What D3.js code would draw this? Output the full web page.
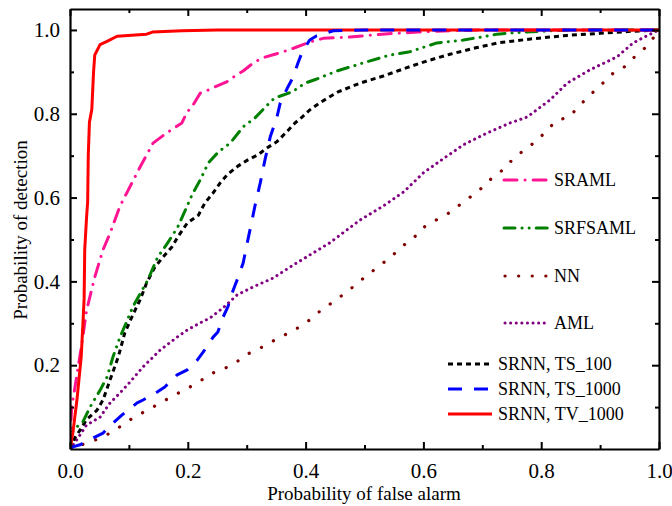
<!DOCTYPE html>
<html>
<head>
<meta charset="utf-8">
<script src="https://cdn.jsdelivr.net/npm/d3@7"></script>
<style>
  body { margin: 0; background: #fff; }
</style>
</head>
<body>
<svg id="chart" width="672" height="506" font-family="Liberation Serif"></svg>
<script>
// ROC curves, [false alarm, detection]
var nn = [[0,0],[0.048,0.024],[0.071,0.04],[0.11,0.077],[0.132,0.093],[0.156,0.112],[0.175,0.127],[0.197,0.143],[0.217,0.158],[0.238,0.179],[0.261,0.191],[0.283,0.208],[0.302,0.227],[0.326,0.243],[0.345,0.258],[0.367,0.274],[0.387,0.289],[0.407,0.308],[0.427,0.332],[0.447,0.351],[0.47,0.375],[0.505,0.415],[0.525,0.437],[0.545,0.458],[0.562,0.482],[0.582,0.501],[0.598,0.527],[0.621,0.546],[0.643,0.563],[0.664,0.585],[0.684,0.606],[0.701,0.625],[0.718,0.649],[0.737,0.668],[0.752,0.692],[0.769,0.711],[0.79,0.733],[0.807,0.756],[0.825,0.783],[0.848,0.793],[0.866,0.821],[0.883,0.845],[0.902,0.869],[0.918,0.893],[0.939,0.909],[0.958,0.935],[0.978,0.959],[0.992,0.984],[1,1]];
var aml = [[0,0],[0.011,0.021],[0.028,0.057],[0.051,0.076],[0.068,0.11],[0.085,0.134],[0.102,0.16],[0.124,0.196],[0.153,0.236],[0.182,0.267],[0.199,0.284],[0.221,0.301],[0.238,0.313],[0.26,0.337],[0.284,0.368],[0.311,0.387],[0.345,0.408],[0.379,0.439],[0.413,0.468],[0.441,0.492],[0.492,0.546],[0.532,0.58],[0.566,0.613],[0.6,0.659],[0.628,0.687],[0.668,0.726],[0.708,0.754],[0.747,0.778],[0.776,0.792],[0.815,0.833],[0.844,0.873],[0.883,0.905],[0.929,0.936],[0.956,0.969],[0.985,0.99],[1,1]];
var ts100 = [[0,0],[0.008,0.026],[0.017,0.045],[0.028,0.07],[0.046,0.093],[0.056,0.117],[0.068,0.165],[0.082,0.22],[0.093,0.277],[0.105,0.315],[0.119,0.356],[0.13,0.396],[0.144,0.434],[0.158,0.458],[0.173,0.482],[0.183,0.506],[0.199,0.539],[0.218,0.558],[0.229,0.587],[0.243,0.611],[0.255,0.635],[0.268,0.656],[0.285,0.675],[0.302,0.69],[0.319,0.702],[0.334,0.718],[0.351,0.733],[0.368,0.757],[0.382,0.778],[0.394,0.792],[0.407,0.809],[0.424,0.826],[0.438,0.838],[0.455,0.852],[0.492,0.873],[0.532,0.89],[0.572,0.91],[0.606,0.926],[0.645,0.942],[0.691,0.958],[0.73,0.97],[0.786,0.979],[0.844,0.987],[0.9,0.992],[0.956,0.997],[1,1]];
var srfsaml = [[0,0],[0.005,0.045],[0.022,0.065],[0.034,0.1],[0.051,0.14],[0.063,0.172],[0.073,0.22],[0.085,0.267],[0.107,0.34],[0.132,0.403],[0.149,0.458],[0.165,0.49],[0.183,0.53],[0.192,0.558],[0.207,0.606],[0.221,0.642],[0.235,0.683],[0.252,0.709],[0.272,0.73],[0.294,0.769],[0.314,0.79],[0.34,0.828],[0.348,0.838],[0.377,0.852],[0.399,0.873],[0.419,0.883],[0.453,0.902],[0.504,0.924],[0.543,0.94],[0.577,0.948],[0.623,0.969],[0.668,0.976],[0.702,0.984],[0.725,0.99],[0.77,0.995],[0.85,1],[1,1]];
var sraml = [[0,0],[0.001,0.05],[0.003,0.1],[0.011,0.17],[0.02,0.25],[0.028,0.33],[0.042,0.41],[0.056,0.475],[0.068,0.515],[0.085,0.58],[0.096,0.61],[0.119,0.673],[0.141,0.73],[0.164,0.754],[0.19,0.778],[0.198,0.802],[0.209,0.821],[0.221,0.849],[0.235,0.857],[0.249,0.866],[0.266,0.876],[0.28,0.89],[0.294,0.902],[0.311,0.921],[0.326,0.933],[0.362,0.948],[0.377,0.955],[0.407,0.971],[0.43,0.98],[0.475,0.983],[0.53,0.99],[0.59,0.995],[0.645,0.998],[0.7,1],[1,1]];
var tv1000 = [[0,0],[0.005,0.04],[0.012,0.12],[0.019,0.22],[0.022,0.3],[0.024,0.36],[0.025,0.475],[0.028,0.55],[0.03,0.59],[0.031,0.7],[0.033,0.78],[0.037,0.81],[0.04,0.9],[0.042,0.94],[0.051,0.965],[0.062,0.972],[0.08,0.985],[0.13,0.99],[0.14,0.995],[0.19,0.998],[0.25,1],[1,1]];
var ts1000 = [[0,0],[0.005,0.005],[0.017,0.01],[0.039,0.026],[0.056,0.038],[0.073,0.062],[0.088,0.081],[0.114,0.11],[0.124,0.117],[0.148,0.136],[0.161,0.148],[0.182,0.177],[0.199,0.189],[0.216,0.212],[0.226,0.231],[0.243,0.267],[0.251,0.279],[0.26,0.315],[0.268,0.339],[0.277,0.379],[0.285,0.408],[0.294,0.444],[0.302,0.499],[0.309,0.546],[0.314,0.58],[0.323,0.635],[0.331,0.69],[0.34,0.745],[0.351,0.79],[0.357,0.826],[0.37,0.864],[0.379,0.888],[0.387,0.921],[0.395,0.95],[0.402,0.965],[0.407,0.976],[0.419,0.986],[0.447,0.998],[0.5,1],[1,1]];

var xTicks = [0, 0.2, 0.4, 0.6, 0.8, 1.0];
var yTicks = [0.2, 0.4, 0.6, 0.8, 1.0];
var minorTicks = [0.1, 0.3, 0.5, 0.7, 0.9];

var series = [
  {name: "NN", data: nn, color: "#800000", width: 3.2, dash: "0.1,13.5", cap: "round"},
  {name: "AML", data: aml, color: "#800080", width: 3, dash: "0.1,5.5", cap: "round"},
  {name: "SRNN, TS_100", data: ts100, color: "#000000", width: 3, dash: "5,4", cap: "butt"},
  {name: "SRFSAML", data: srfsaml, color: "#008000", width: 3, dash: "11,7,0.1,7,0.1,7", cap: "round"},
  {name: "SRAML", data: sraml, color: "#ff1493", width: 3, dash: "13,8,0.1,8", cap: "round"},
  {name: "SRNN, TV_1000", data: tv1000, color: "#ff0000", width: 3, dash: null, cap: "butt"},
  {name: "SRNN, TS_1000", data: ts1000, color: "#0000ff", width: 3, dash: "14,12", cap: "butt"}
];

var FONT = "Liberation Serif";

var svg = d3.select("#chart");
var x = d3.scaleLinear().domain([0, 1]).range([70, 659]);
var y = d3.scaleLinear().domain([0, 1.05]).range([449, 9]);

var line = d3.line().x(function(d){ return x(d[0]); }).y(function(d){ return y(d[1]); });

svg.append("clipPath").attr("id", "clip").append("rect")
  .attr("x", 70).attr("y", 9).attr("width", 589).attr("height", 440);

var plot = svg.append("g").attr("clip-path", "url(#clip)");
series.forEach(function(s){
  plot.append("path")
    .attr("d", line(s.data))
    .attr("fill", "none")
    .attr("stroke", s.color)
    .attr("stroke-width", s.width)
    .attr("stroke-dasharray", s.dash)
    .attr("stroke-linecap", s.cap)
    .attr("stroke-linejoin", "round");
});

// axes, ticks inside
function styleAxis(g){
  g.attr("font-family", FONT).attr("font-size", 21);
  g.select(".domain").attr("stroke-width", 2.2);
  g.selectAll(".tick line").attr("stroke-width", 2);
  g.selectAll(".tick text").attr("font-family", FONT).attr("font-size", 21).attr("fill", "#000");
}
function minorAxis(g){
  g.select(".domain").remove();
  g.selectAll("line").attr("stroke-width", 2);
}
var axBottom = svg.append("g").attr("transform", "translate(0,449)")
  .call(d3.axisBottom(x).tickValues(xTicks).tickSize(-7).tickPadding(14).tickSizeOuter(0).tickFormat(d3.format(".1f")));
styleAxis(axBottom);
svg.append("g").attr("transform", "translate(0,449)")
  .call(d3.axisBottom(x).tickValues(minorTicks).tickSize(-4).tickFormat("").tickSizeOuter(0))
  .call(minorAxis);
var axTop = svg.append("g").attr("transform", "translate(0,9)")
  .call(d3.axisTop(x).tickValues(xTicks.concat(minorTicks)).tickSize(-7).tickFormat("").tickSizeOuter(0));
styleAxis(axTop);
axTop.selectAll(".tick line").filter(function(d){ return minorTicks.indexOf(d) >= 0; }).attr("y2", 4);

var axLeft = svg.append("g").attr("transform", "translate(70,0)")
  .call(d3.axisLeft(y).tickValues(yTicks).tickSize(-7).tickPadding(10).tickSizeOuter(0).tickFormat(d3.format(".1f")));
styleAxis(axLeft);
svg.append("g").attr("transform", "translate(70,0)")
  .call(d3.axisLeft(y).tickValues(minorTicks).tickSize(-4).tickFormat("").tickSizeOuter(0))
  .call(minorAxis);
var axRight = svg.append("g").attr("transform", "translate(659,0)")
  .call(d3.axisRight(y).tickValues(yTicks.concat(minorTicks)).tickSize(-7).tickFormat("").tickSizeOuter(0));
styleAxis(axRight);
axRight.selectAll(".tick line").filter(function(d){ return minorTicks.indexOf(d) >= 0; }).attr("x2", -4);

svg.append("text").attr("x", 364).attr("y", 500).attr("text-anchor", "middle")
  .attr("font-family", FONT).attr("font-size", 19).text("Probability of false alarm");
svg.append("text").attr("transform", "translate(27,230) rotate(-90)").attr("text-anchor", "middle")
  .attr("font-family", FONT).attr("font-size", 19).text("Probability of detection");

// legend
var legendRows = [
  {name: "SRAML", x1: 504, x2: 549, ty: 180, tx: 554},
  {name: "SRFSAML", x1: 504, x2: 549, ty: 228, tx: 554},
  {name: "NN", x1: 505, x2: 549, ty: 276, tx: 554},
  {name: "AML", x1: 505, x2: 547, ty: 323, tx: 554},
  {name: "SRNN, TS_100", x1: 448, x2: 492, ty: 364, tx: 498},
  {name: "SRNN, TS_1000", x1: 448, x2: 492, ty: 389, tx: 498},
  {name: "SRNN, TV_1000", x1: 448, x2: 492, ty: 414, tx: 498}
];
legendRows.forEach(function(r){
  var s = series.filter(function(d){ return d.name === r.name; })[0];
  svg.append("line").attr("x1", r.x1).attr("x2", r.x2).attr("y1", r.ty).attr("y2", r.ty)
    .attr("stroke", s.color).attr("stroke-width", s.width)
    .attr("stroke-dasharray", s.dash).attr("stroke-linecap", s.cap);
  svg.append("text").attr("x", r.tx).attr("y", r.ty).attr("dy", "0.35em")
    .attr("font-family", FONT).attr("font-size", 18).text(r.name);
});
</script>
</body>
</html>
